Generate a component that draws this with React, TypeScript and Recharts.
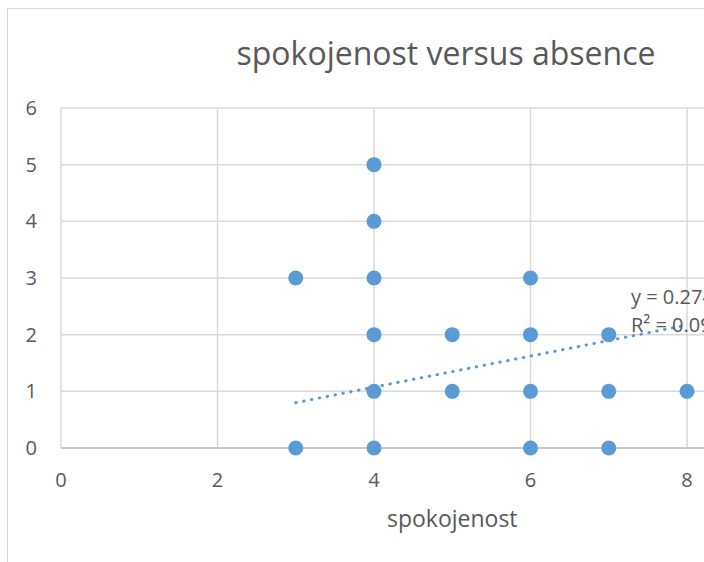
import React from 'react';
import { ScatterChart, Scatter, XAxis, YAxis, CartesianGrid } from 'recharts';

// spokojenost (x) vs absence (y), one entry per respondent
const spokojenost = [3, 3, 4, 4, 4, 4, 4, 4, 5, 5, 6, 6, 6, 6, 7, 7, 7, 8];
const absence = [0, 3, 0, 1, 2, 3, 4, 5, 1, 2, 0, 1, 2, 3, 0, 1, 2, 1];

// linear trendline end points
const trendX = [3, 8];
const trendY = [0.8, 2.17];

const xTicks = [0, 2, 4, 6, 8, 10];
const yTicks = [0, 1, 2, 3, 4, 5, 6];

const BLUE = '#5b9bd5';
const GRID = '#d9d9d9';
const TEXT = '#595959';
const FONT = '"Open Sans", sans-serif';

const points = spokojenost.map((x, i) => ({ x, y: absence[i] }));
const trend = trendX.map((x, i) => ({ x, y: trendY[i] }));

const Dot = (props: any) => <circle cx={props.cx} cy={props.cy} r={7.5} fill={BLUE} />;

export default function App() {
  return (
    <div
      style={{
        position: 'absolute',
        left: 0,
        top: 0,
        width: 704,
        height: 562,
        overflow: 'hidden',
        background: '#fff',
        fontFamily: FONT,
      }}
    >
      {/* chart frame */}
      <div
        style={{
          position: 'absolute',
          left: 7,
          top: 8,
          width: 900,
          height: 700,
          border: `1.5px solid ${GRID}`,
        }}
      />

      <div style={{ position: 'absolute', left: 0, top: 0 }}>
        <ScatterChart
          width={900}
          height={562}
          margin={{ top: 108, right: 56.5, bottom: 0, left: 0 }}
        >
          <CartesianGrid stroke={GRID} strokeWidth={1.5} />
          <XAxis
            type="number"
            dataKey="x"
            domain={[0, 10]}
            ticks={xTicks}
            height={114}
            axisLine={{ stroke: '#bfbfbf', strokeWidth: 1.5 }}
            tickLine={false}
            tickSize={0}
            tickMargin={25}
            tick={{ fill: TEXT, fontSize: 20, fontFamily: FONT }}
            label={{
              value: 'spokojenost',
              position: 'insideBottom',
              offset: 35,
              fill: TEXT,
              fontSize: 23,
              fontFamily: FONT,
            }}
          />
          <YAxis
            type="number"
            dataKey="y"
            domain={[0, 6]}
            ticks={yTicks}
            width={61}
            axisLine={false}
            tickLine={false}
            tickSize={0}
            tickMargin={24}
            tick={{ fill: TEXT, fontSize: 20, fontFamily: FONT }}
          />
          <Scatter data={points} fill={BLUE} shape={Dot} isAnimationActive={false} />
          <Scatter
            data={trend}
            line={{
              stroke: BLUE,
              strokeWidth: 3,
              strokeDasharray: '0.5 7.5',
              strokeLinecap: 'round',
            }}
            shape={() => null}
            isAnimationActive={false}
          />
        </ScatterChart>
      </div>

      {/* title and trendline equation */}
      <svg
        width={704}
        height={562}
        style={{ position: 'absolute', left: 0, top: 0, pointerEvents: 'none' }}
      >
        <text x={446} y={65} textAnchor="middle" fill={TEXT} fontSize={32} fontFamily={FONT}>
          spokojenost versus absence
        </text>
        <text x={631} y={304} fill={TEXT} fontSize={20} fontFamily={FONT}>
          y = 0.2741x - 0.0226
        </text>
        <text x={631} y={332} fill={TEXT} fontSize={20} fontFamily={FONT}>
          R² = 0.0991
        </text>
      </svg>
    </div>
  );
}
